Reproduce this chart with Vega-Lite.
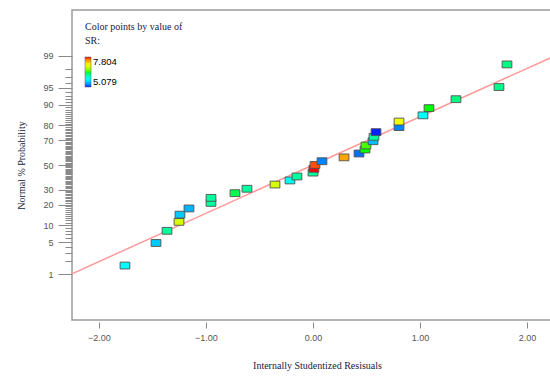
{
  "$schema": "https://vega.github.io/schema/vega-lite/v6.json",
  "width": 490,
  "height": 310,
  "autosize": "none",
  "padding": {"left": 72, "top": 10, "right": 0, "bottom": 56},
  "background": "white",
  "config": {
    "view": {"stroke": "#9a9a9a", "strokeWidth": 1.5},
    "font": "Liberation Sans"
  },
  "resolve": {"axis": {"y": "independent"}},
  "datasets": {
    "pts": [
      {"residual": -1.757, "z": -2.141, "SR": 5.76},
      {"residual": -1.467, "z": -1.660, "SR": 5.54},
      {"residual": -1.364, "z": -1.401, "SR": 6.17},
      {"residual": -1.252, "z": -1.211, "SR": 6.93},
      {"residual": -1.243, "z": -1.057, "SR": 5.54},
      {"residual": -1.159, "z": -0.925, "SR": 5.46},
      {"residual": -0.953, "z": -0.807, "SR": 6.17},
      {"residual": -0.953, "z": -0.700, "SR": 6.17},
      {"residual": -0.729, "z": -0.600, "SR": 6.36},
      {"residual": -0.617, "z": -0.506, "SR": 6.17},
      {"residual": -0.355, "z": -0.416, "SR": 6.93},
      {"residual": -0.215, "z": -0.329, "SR": 5.84},
      {"residual": -0.150, "z": -0.245, "SR": 6.17},
      {"residual": 0.000, "z": -0.162, "SR": 6.17},
      {"residual": 0.009, "z": -0.081, "SR": 7.804},
      {"residual": 0.019, "z": 0.000, "SR": 7.70},
      {"residual": 0.084, "z": 0.081, "SR": 5.30},
      {"residual": 0.290, "z": 0.162, "SR": 7.45},
      {"residual": 0.430, "z": 0.245, "SR": 5.24},
      {"residual": 0.486, "z": 0.329, "SR": 6.44},
      {"residual": 0.495, "z": 0.416, "SR": 6.50},
      {"residual": 0.561, "z": 0.506, "SR": 5.49},
      {"residual": 0.570, "z": 0.600, "SR": 6.17},
      {"residual": 0.589, "z": 0.700, "SR": 5.079},
      {"residual": 0.804, "z": 0.807, "SR": 5.30},
      {"residual": 0.804, "z": 0.925, "SR": 7.07},
      {"residual": 1.028, "z": 1.057, "SR": 5.76},
      {"residual": 1.084, "z": 1.211, "SR": 6.44},
      {"residual": 1.336, "z": 1.401, "SR": 6.25},
      {"residual": 1.738, "z": 1.660, "SR": 6.22},
      {"residual": 1.813, "z": 2.141, "SR": 6.25}
    ],
    "fit": [
      {"residual": -2.252, "z": -2.315},
      {"residual": 2.327, "z": 2.392}
    ]
  },
  "layer": [
    {
      "data": {"name": "fit"},
      "mark": {"type": "line", "color": "#ff9a9a", "strokeWidth": 1.5, "clip": true},
      "encoding": {
        "x": {"field": "residual", "type": "quantitative"},
        "y": {
          "field": "z",
          "type": "quantitative",
          "axis": {
            "orient": "left",
            "values": [-2.0537, -1.8808, -1.7507, -1.5548, -1.4758, -1.4051, -1.3408, -1.2265, -1.175, -1.1264, -1.0803, -1.0364, -0.9945, -0.9542, -0.9154, -0.8779, -0.8064, -0.7722, -0.7388, -0.7063, -0.6745, -0.6433, -0.6128, -0.5828, -0.5534, -0.4959, -0.4677, -0.4399, -0.4125, -0.3853, -0.3585, -0.3319, -0.3055, -0.2793, -0.2533, -0.2275, -0.2019, -0.1764, -0.151, -0.1257, -0.1004, -0.0753, -0.0502, -0.0251, 0.0251, 0.0502, 0.0753, 0.1004, 0.1257, 0.151, 0.1764, 0.2019, 0.2275, 0.2533, 0.2793, 0.3055, 0.3319, 0.3585, 0.3853, 0.4125, 0.4399, 0.4677, 0.4959, 0.5534, 0.5828, 0.6128, 0.6433, 0.6745, 0.7063, 0.7388, 0.7722, 0.8064, 0.8779, 0.9154, 0.9542, 0.9945, 1.0364, 1.0803, 1.1264, 1.175, 1.2265, 1.3408, 1.4051, 1.4758, 1.5548, 1.7507, 1.8808, 2.0537],
            "labels": false,
            "title": null,
            "grid": false,
            "domain": false,
            "tickColor": "#8a8a8a",
            "tickSize": 7
          }
        }
      }
    },
    {
      "data": {"name": "pts"},
      "mark": {
        "type": "point",
        "shape": "M-1,-0.7H1V0.7H-1Z",
        "size": 95,
        "filled": true,
        "opacity": 1,
        "stroke": "#505050",
        "strokeWidth": 0.9
      },
      "encoding": {
        "x": {
          "field": "residual",
          "type": "quantitative",
          "scale": {"domain": [-2.252, 2.327], "nice": false, "zero": false},
          "axis": {
            "values": [-2, -1, 0, 1, 2],
            "format": ".2f",
            "grid": false,
            "domain": false,
            "offset": 2,
            "tickSize": 6,
            "tickColor": "#888888",
            "labelColor": "#555555",
            "labelFontSize": 9,
            "labelPadding": 5,
            "title": "Internally Studentized Resisuals",
            "titleFont": "Liberation Serif",
            "titleFontWeight": "normal",
            "titleFontSize": 10,
            "titleColor": "#202040",
            "titlePadding": 18
          }
        },
        "y": {
          "field": "z",
          "type": "quantitative",
          "scale": {"domain": [-3.3, 3.3], "nice": false, "zero": false},
          "axis": {
            "orient": "left",
            "values": [-2.3263, -1.6449, -1.2816, -0.8416, -0.5244, 0, 0.5244, 0.8416, 1.2816, 1.6449, 2.3263],
            "labelExpr": "datum.value < -2 ? '1' : datum.value < -1.5 ? '5' : datum.value < -1 ? '10' : datum.value < -0.7 ? '20' : datum.value < -0.3 ? '30' : datum.value < 0.3 ? '50' : datum.value < 0.7 ? '70' : datum.value < 1 ? '80' : datum.value < 1.5 ? '90' : datum.value < 2 ? '95' : '99'",
            "labelOverlap": false,
            "grid": false,
            "domain": false,
            "tickColor": "#8a8a8a",
            "tickSize": 14,
            "labelColor": "#555555",
            "labelFontSize": 9,
            "labelPadding": 5,
            "title": "Normal % Probability",
            "titleFont": "Liberation Serif",
            "titleFontWeight": "normal",
            "titleFontSize": 10,
            "titleColor": "#202040",
            "titlePadding": 16
          }
        },
        "color": {
          "field": "SR",
          "type": "quantitative",
          "scale": {
            "domain": [5.079, 7.804],
            "range": ["#0020ff", "#00ffff", "#00ff00", "#ffff00", "#ff0000"]
          },
          "legend": {
            "orient": "none",
            "legendX": 13,
            "legendY": 12,
            "title": ["Color points by value of", "SR:"],
            "titleFont": "Liberation Serif",
            "titleFontWeight": "normal",
            "titleFontSize": 10,
            "titleColor": "#202040",
            "titleLineHeight": 14,
            "titlePadding": 11,
            "gradientLength": 30,
            "gradientThickness": 6,
            "gradientStrokeColor": "#555555",
            "gradientStrokeWidth": 0.5,
            "values": [5.079, 7.804],
            "format": ".3f",
            "labelFontSize": 9.5,
            "labelOffset": 2,
            "encode": {
              "labels": {"update": {"fill": {"signal": "datum.value > 6.5 ? '#ff2020' : '#3030ff'"}}}
            }
          }
        }
      }
    }
  ]
}
